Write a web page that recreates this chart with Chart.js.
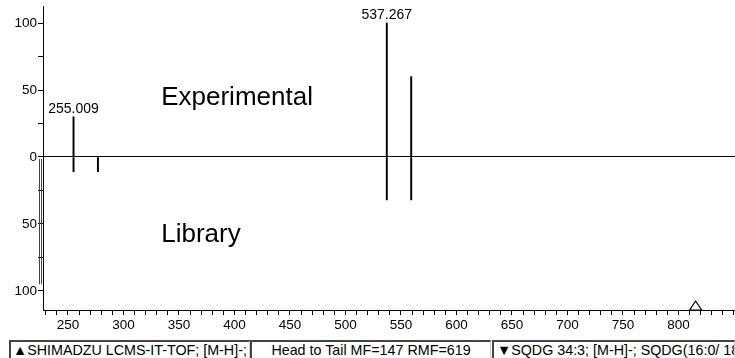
<!DOCTYPE html>
<html><head><meta charset="utf-8">
<script src="https://cdn.jsdelivr.net/npm/chart.js@4.4.1/dist/chart.umd.min.js"></script>
<style>
html,body{margin:0;padding:0;background:#fff;width:735px;height:358px;overflow:hidden;font-family:"Liberation Sans",Arial,sans-serif;}
#wrap{position:absolute;left:0;top:0;width:735px;height:338px;}
.box{position:absolute;top:340px;height:19px;box-sizing:border-box;border-top:2px solid #444;border-left:2px solid #444;border-right:1px solid #ccc;border-bottom:0;font-size:14.3px;line-height:16px;white-space:nowrap;overflow:hidden;color:#000;}
</style></head><body>
<div id="wrap"><canvas id="c" width="735" height="338"></canvas></div>
<div class="box" style="left:9px;width:241px;padding-left:2px">▲SHIMADZU LCMS-IT-TOF; [M-H]-;</div>
<div class="box" style="left:250px;width:241px;text-align:center">Head to Tail MF=147 RMF=619</div>
<div class="box" style="left:492px;width:243px;padding-left:3px">▼SQDG 34:3; [M-H]-; SQDG(16:0/ 18:3)</div>
<script>
// ---- data ----
const expMz = [255.009, 537.267, 559.25];
const expIntensity = [30, 100, 60];
const expPeakLabels = ['255.009', '537.267', ''];
const libMz = [255.009, 277.0, 537.267, 559.25];
const libIntensity = [11, 11, 32, 32];
const precursorMz = 815.5;
const xMajorTicks = [250, 300, 350, 400, 450, 500, 550, 600, 650, 700, 750, 800];
const yMajorTicks = [-100, -50, 0, 50, 100];
const yMinorTicks = [-75, -25, 25, 75];
const panelTitles = ['Experimental', 'Library'];

const xAllTicks = [];
for (let v = 230; v <= 850; v += 10) xAllTicks.push(v);
const yAllTicks = yMajorTicks.concat(yMinorTicks).sort((a, b) => a - b);

const FONT = '"Liberation Sans", Arial, sans-serif';

const decor = {
  id: 'decor',
  afterDatasetsDraw(chart) {
    const ctx = chart.ctx, xs = chart.scales.x, ys = chart.scales.y, ca = chart.chartArea;
    ctx.save();
    // peak labels
    ctx.fillStyle = '#000';
    ctx.font = '14px ' + FONT;
    ctx.textAlign = 'center';
    ctx.textBaseline = 'bottom';
    expMz.forEach((mz, i) => {
      if (!expPeakLabels[i]) return;
      ctx.fillText(expPeakLabels[i], xs.getPixelForValue(mz), ys.getPixelForValue(expIntensity[i]) - 1);
    });
    // panel titles
    ctx.font = '26px ' + FONT;
    ctx.textAlign = 'left';
    ctx.textBaseline = 'middle';
    ctx.fillText(panelTitles[0], xs.getPixelForValue(334), ys.getPixelForValue(44));
    ctx.fillText(panelTitles[1], xs.getPixelForValue(334), ys.getPixelForValue(-58));
    // precursor triangle
    const px = xs.getPixelForValue(precursorMz), py = ca.bottom;
    ctx.beginPath();
    ctx.moveTo(px - 6, py);
    ctx.lineTo(px + 6, py);
    ctx.lineTo(px, py - 9);
    ctx.closePath();
    ctx.fillStyle = '#fff';
    ctx.fill();
    ctx.strokeStyle = '#000';
    ctx.lineWidth = 1.2;
    ctx.stroke();
    // marker lines left of lower axis
    ctx.strokeStyle = '#444';
    ctx.lineWidth = 1;
    [ca.left - 3.5, ca.left - 1.5].forEach(x => {
      ctx.beginPath();
      ctx.moveTo(x, ys.getPixelForValue(-1.5));
      ctx.lineTo(x, ys.getPixelForValue(-95));
      ctx.stroke();
    });
    ctx.restore();
  }
};

new Chart(document.getElementById('c'), {
  type: 'bar',
  data: {
    datasets: [
      {
        label: 'Experimental',
        data: expMz.map((m, i) => ({ x: m, y: expIntensity[i] })),
        backgroundColor: '#000',
        borderWidth: 0,
        barThickness: 1.3,
        grouped: false
      },
      {
        label: 'Library',
        data: libMz.map((m, i) => ({ x: m, y: -libIntensity[i] })),
        backgroundColor: '#000',
        borderWidth: 0,
        barThickness: 1.3,
        grouped: false
      }
    ]
  },
  options: {
    responsive: false,
    animation: false,
    layout: { padding: { top: 6, right: 0, bottom: 0, left: 0 } },
    plugins: { legend: { display: false }, tooltip: { enabled: false } },
    scales: {
      x: {
        type: 'linear',
        offset: false,
        min: 227.5,
        max: 851,
        afterBuildTicks: s => { s.ticks = xAllTicks.map(v => ({ value: v })); },
        afterFit: s => { s.height = 28; s.paddingLeft = 0; s.paddingRight = 0; },
        ticks: {
          autoSkip: false, maxRotation: 0, minRotation: 0, padding: 2,
          color: '#000', font: { family: FONT, size: 13.5 },
          callback: v => xMajorTicks.includes(v) ? String(v) : ''
        },
        grid: { drawOnChartArea: false, drawTicks: true, tickLength: 5, tickColor: '#000', color: '#000', offset: false },
        border: { display: true, color: '#000', width: 1 }
      },
      y: {
        type: 'linear',
        min: -114.2,
        max: 112.7,
        afterBuildTicks: s => { s.ticks = yAllTicks.map(v => ({ value: v })); },
        afterFit: s => { s.width = 43; s.paddingTop = 0; s.paddingBottom = 0; },
        ticks: {
          autoSkip: false, padding: 1,
          color: '#000', font: { family: FONT, size: 13.5 },
          callback: v => yMajorTicks.includes(v) ? String(Math.abs(v)) : ''
        },
        grid: {
          drawOnChartArea: true, drawTicks: true, tickLength: 5, tickColor: '#000',
          color: c => (c.tick && c.tick.value === 0) ? '#000' : 'rgba(0,0,0,0)',
          lineWidth: 1
        },
        border: { display: true, color: '#000', width: 1 }
      }
    }
  },
  plugins: [decor]
});
</script>
</body></html>
